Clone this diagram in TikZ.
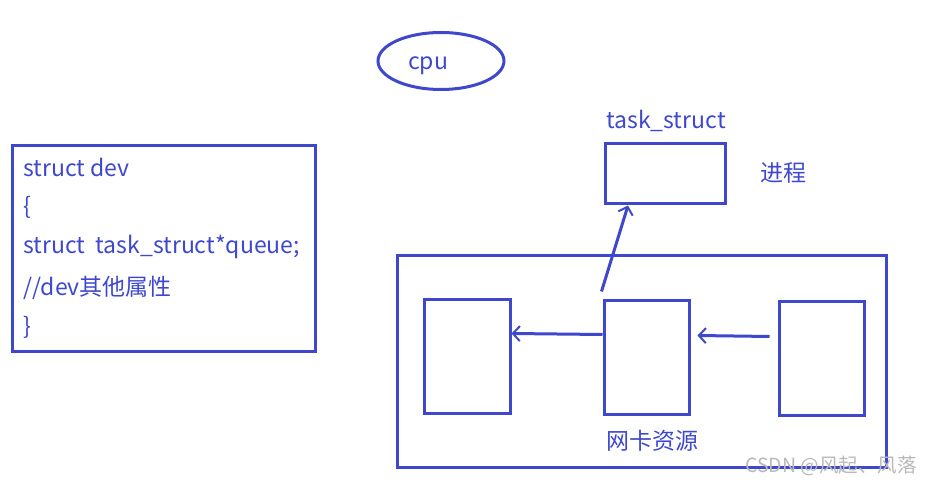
\documentclass[tikz,border=0pt]{standalone}
\usepackage{fontspec}
\setmainfont{Noto Sans CJK SC}
\usetikzlibrary{shapes,arrows.meta}
\definecolor{pen}{HTML}{3F48CC}

\begin{document}
\begin{tikzpicture}[x=1pt,y=-1pt,line width=3pt]
\tikzstyle{box}=[rectangle,draw=pen,line width=3pt,inner sep=0pt]
\tikzstyle{lbl}=[text=pen,font=\fontsize{23}{27}\selectfont,inner sep=0pt]
\tikzstyle{hand}=[draw=pen,-{Straight Barb[length=7pt,width=15pt,line width=2pt]}]
\useasboundingbox (0,0) rectangle (932,486);
\fill[white] (0,0) rectangle (932,486);

% cpu
\node[ellipse,draw=pen,minimum width=126,minimum height=57](cpu) at (441,61) {};
\node[lbl](cpulbl) at (428,66) {cpu};

% struct dev
\node[box,minimum width=303,minimum height=206](dev) at (163.5,249) {};
\node[lbl,anchor=west](l1) at (22,167) {struct dev};
\node[lbl,anchor=west](l2) at (22,207) {\{};
\node[lbl,anchor=west](l3) at (22,247) {struct\ \ task\_struct*queue;};
\node[lbl,anchor=west](l4) at (22,288) {//dev其他属性};
\node[lbl,anchor=west](l5) at (22,327) {\}};

% task_struct
\node[lbl](tasklbl) at (666,121) {task\_struct};
\node[box,minimum width=120,minimum height=60](task) at (665,174) {};
\node[lbl](proc) at (783,173) {进程};

% nic
\node[box,minimum width=489,minimum height=211](nic) at (641.5,361.5) {};
\node[box,minimum width=86,minimum height=113](q1) at (467,356.5) {};
\node[box,minimum width=85,minimum height=113](q2) at (646.5,357.5) {};
\node[box,minimum width=85,minimum height=113](q3) at (821.5,358.5) {};
\node[lbl](niclbl) at (652,441) {网卡资源};

\draw[hand] ([yshift=23pt]q2.west) -- ([yshift=23pt]q1.east);
\draw[hand] ([xshift=-8pt,yshift=22pt]q3.west) -- ([xshift=7pt,yshift=22pt]q2.east);
\draw[hand] ([xshift=-45pt,yshift=8pt]q2.north) -- ([xshift=-37pt]task.south);

\node[text=gray!55,font=\fontsize{19.5}{23}\selectfont,inner sep=0pt](mark) at (831,466) {CSDN @风起、风落};
\end{tikzpicture}
\end{document}
